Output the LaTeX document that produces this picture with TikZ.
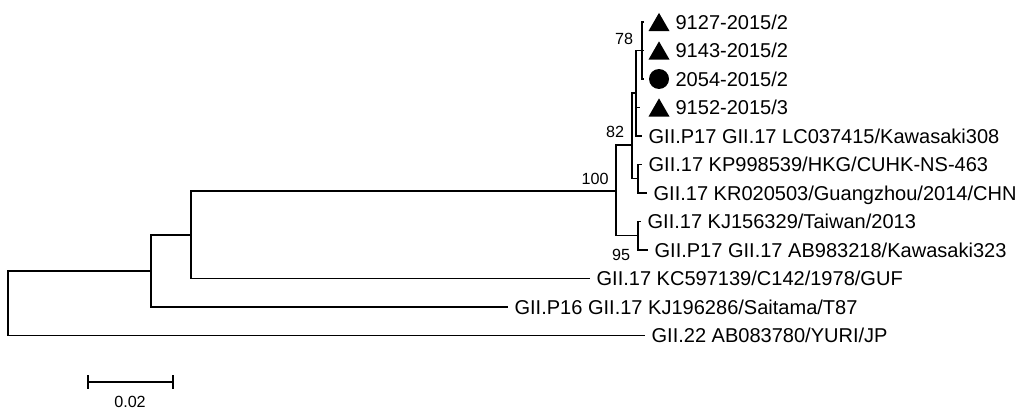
\documentclass[tikz,border=0pt]{standalone}
\usepackage{fontspec}
\setmainfont{Liberation Sans}
\usetikzlibrary{shapes.geometric}

\begin{document}
\begin{tikzpicture}[x=0.02cm,y=-0.02cm,line width=0.7pt,
  leaf/.style={anchor=west,inner xsep=3.4pt,inner ysep=0pt,text height=8.2pt,text depth=0pt,font=\fontsize{11.4}{13}\selectfont},
  boot/.style={inner sep=0pt,font=\fontsize{9.2}{11}\selectfont},
  tri/.style={regular polygon,regular polygon sides=3,fill,inner sep=0pt,minimum size=0.485cm},
  blob/.style={circle,fill,inner sep=0pt,minimum size=0.4cm}]
  \useasboundingbox (0,0) rectangle (1023,409);
  % inner nodes of the tree
  \coordinate (root) at (8,303);
  \coordinate (nD) at (151,271);
  \coordinate (nC) at (191,235);
  \coordinate (n100) at (616,191);
  \coordinate (n95) at (638,235.75);
  \coordinate (n82) at (632,145);
  \coordinate (nA) at (636,93);
  \coordinate (nB) at (638,178.75);
  \coordinate (n78) at (642,50.5);
  % tips
  \foreach \i/\x/\y in {0/644/22,1/644/50.5,2/644/79,3/640/107.5,4/642/136,5/642/164.5,
    6/647/193,7/641/221.5,8/648/250,9/590/278.5,10/508/307,11/645/335.5}
    \coordinate (t\i) at (\x,\y);
  % branches
  \foreach \p/\c in {root/nD,root/t11,nD/nC,nD/t10,nC/n100,nC/t9,n100/n82,n100/n95,
    n95/t7,n95/t8,n82/nA,n82/nB,nB/t5,nB/t6,nA/n78,nA/t3,nA/t4,n78/t0,n78/t1,n78/t2}
    \draw (\p) |- (\c);
  % samples of this study
  \foreach \i/\y in {0/22,1/50.5,3/107.5} \node[tri] (m\i) at (659,\y+3) {};
  \node[blob] (m2) at (659,79) {};
  \foreach \i/\txt in {0/{9127-2015/2},1/{9143-2015/2},2/{2054-2015/2},3/{9152-2015/3}}
    \node[leaf] (l\i) at (669,0 |- t\i) {\txt};
  % reference strains
  \foreach \i/\txt in {4/{GII.P17 GII.17 LC037415/Kawasaki308},5/{GII.17 KP998539/HKG/CUHK-NS-463},
    6/{GII.17 KR020503/Guangzhou/2014/CHN},7/{GII.17 KJ156329/Taiwan/2013},
    8/{GII.P17 GII.17 AB983218/Kawasaki323},9/{GII.17 KC597139/C142/1978/GUF},
    10/{GII.P16 GII.17 KJ196286/Saitama/T87},11/{GII.22 AB083780/YURI/JP}}
    \node[leaf] (l\i) at (t\i) {\txt};
  % bootstrap values
  \node[boot] (b78) at (624,39) {78};
  \node[boot] (b82) at (615,132) {82};
  \node[boot] (b100) at (595,179) {100};
  \node[boot] (b95) at (621,255) {95};
  % scale bar
  \coordinate (s0) at (88,382);
  \coordinate (s1) at (173,382);
  \draw (s0) -- (s1);
  \draw (s0) ++(0,-7) -- ++(0,14) (s1) ++(0,-7) -- ++(0,14);
  \node[boot] (sl) at (130,402) {0.02};
\end{tikzpicture}
\end{document}
